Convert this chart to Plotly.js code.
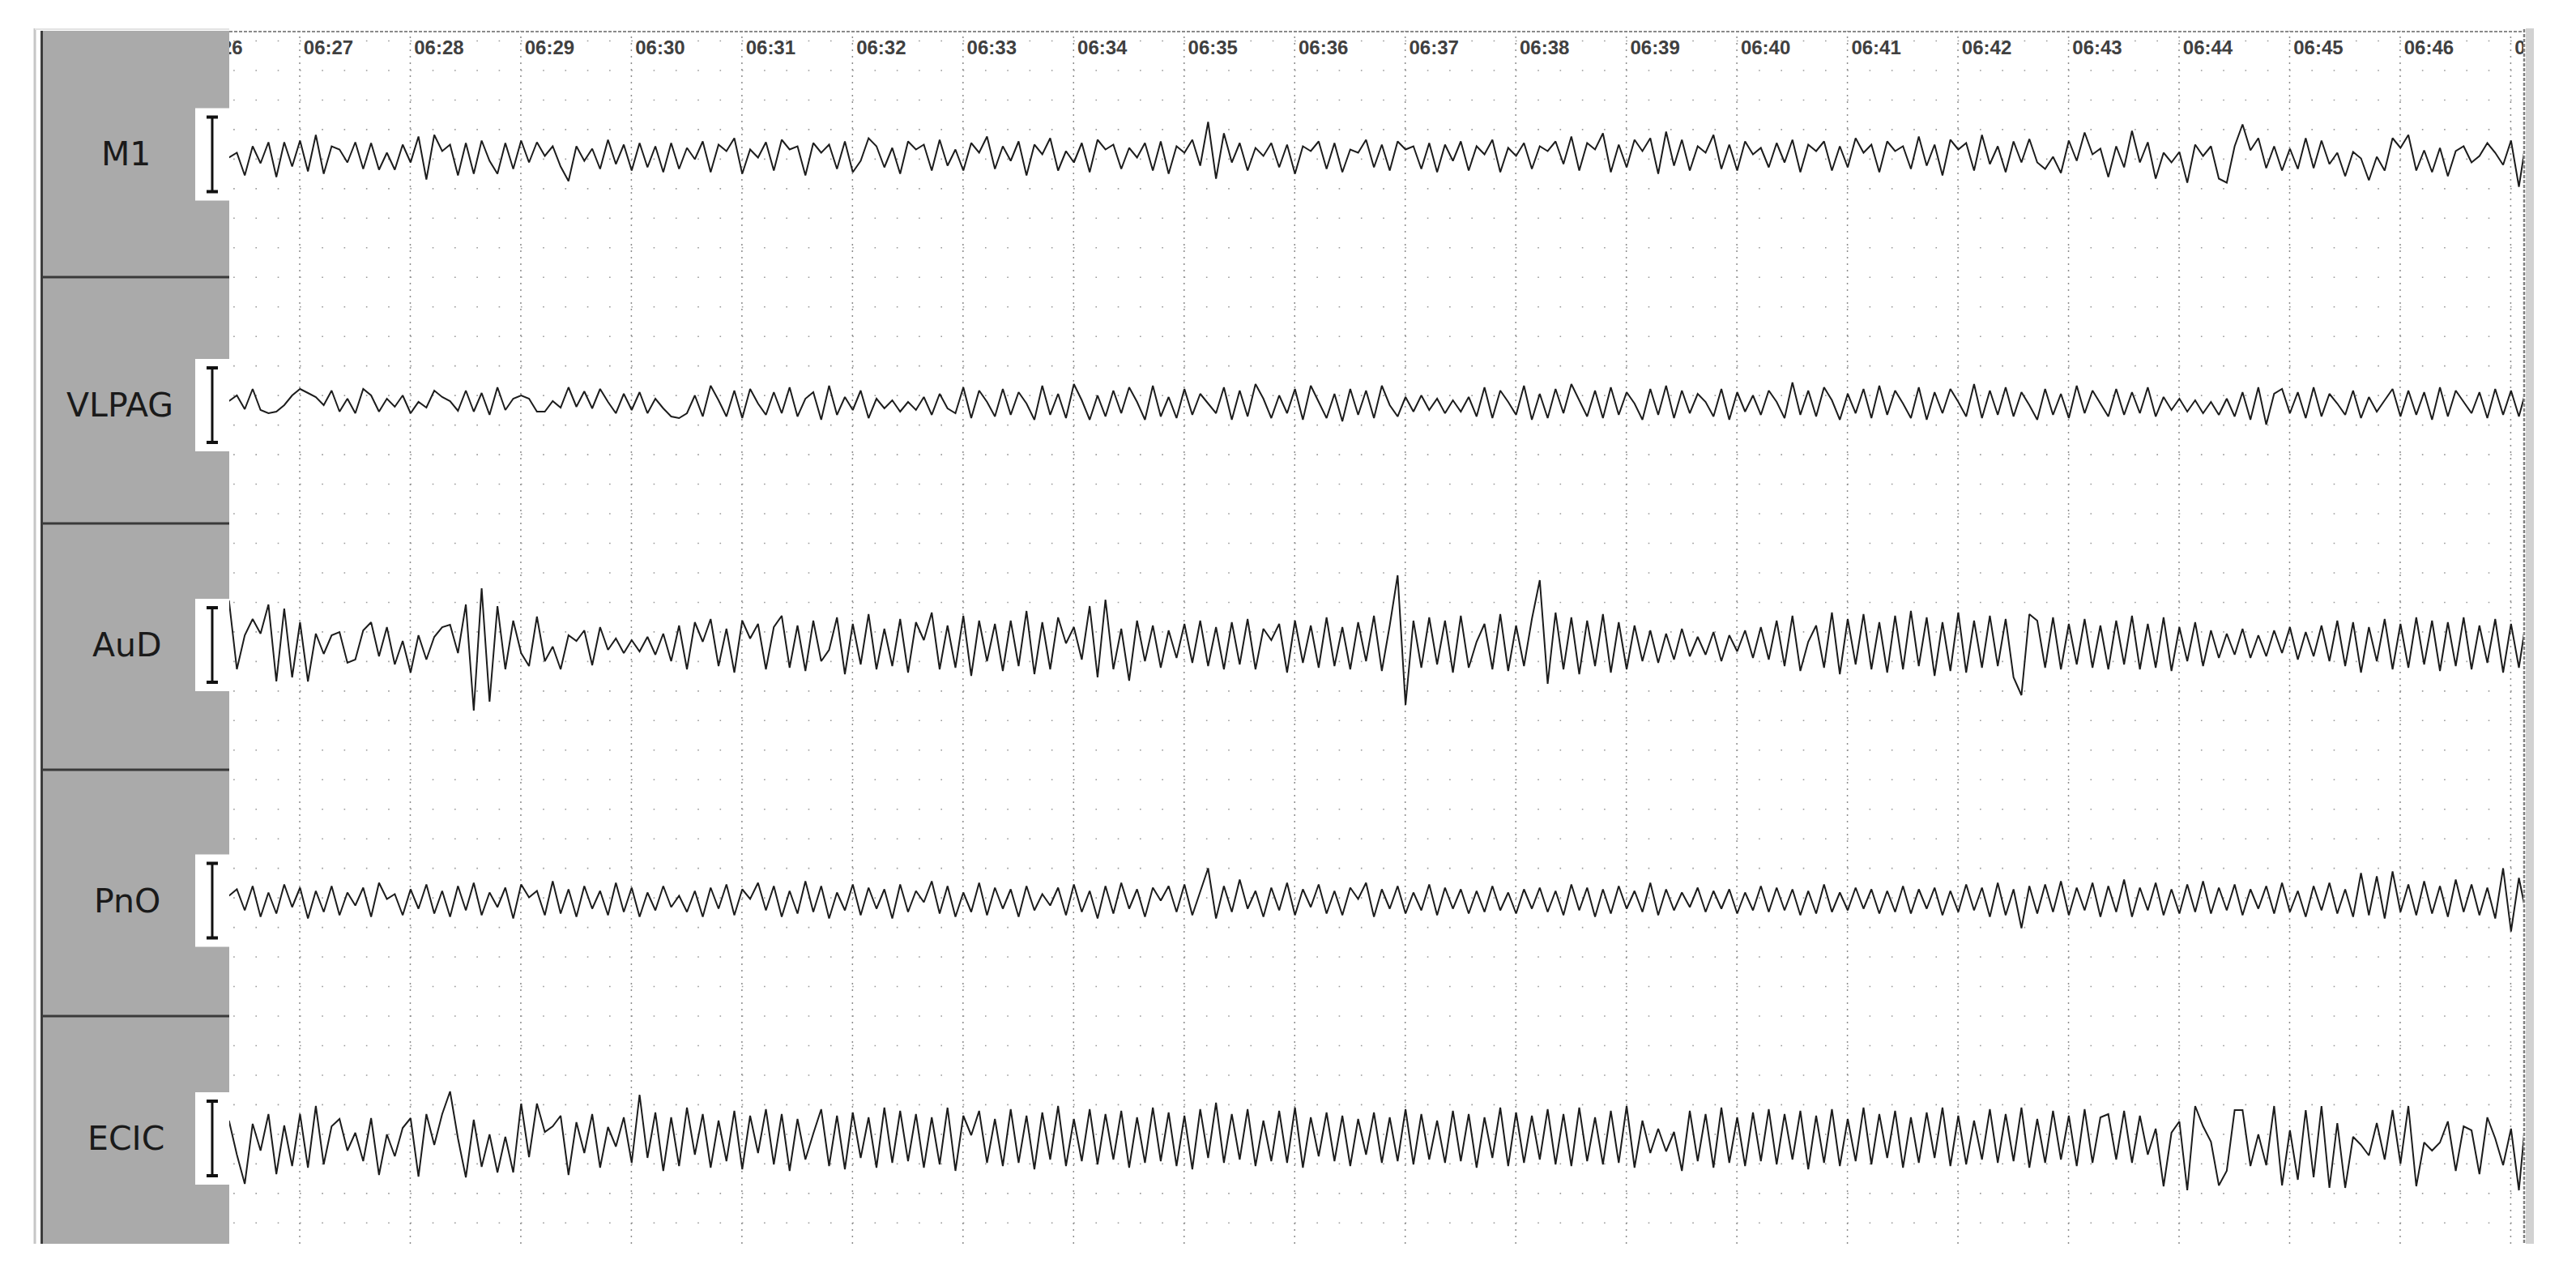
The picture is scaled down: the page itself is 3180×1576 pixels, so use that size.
<!DOCTYPE html>
<html>
<head>
<meta charset="utf-8">
<script src="https://cdn.plot.ly/plotly-3.0.1.min.js"></script>
<style>html,body{margin:0;padding:0;background:#fff;}#chart{width:3180px;height:1576px;}</style>
</head>
<body>
<div id="chart"></div>
<script>
// ---------------- DATA ----------------
// time axis: seconds past 06:00
const tickSeconds = [26,27,28,29,30,31,32,33,34,35,36,37,38,39,40,41,42,43,44,45,46,47];
const tickLabels = ["06:26","06:27","06:28","06:29","06:30","06:31","06:32","06:33","06:34","06:35","06:36","06:37","06:38","06:39","06:40","06:41","06:42","06:43","06:44","06:45","06:46","06:47"];
const channelNames = ["M1","VLPAG","AuD","PnO","ECIC"];
const startTime = 26.36;   // first sample (s)
const sampleRate = 14;     // samples per second
// amplitudes: positive = up, scale bar = 92 units

const M1 = [
 -4,2,-26,10,-11,15,-28,15,-15,17,-21,24,-24,10,
 6,-10,15,-18,14,-19,2,-19,12,-10,22,-31,24,4,
 12,-26,14,-24,17,-8,-24,14,-18,17,-10,15,-2,10,
 -15,-33,10,-8,7,-18,18,-12,12,-20,14,-16,10,-22,
 14,-18,8,-6,16,-22,12,4,20,-24,6,-4,15,-20,
 18,6,10,-26,14,2,12,-18,16,-22,-8,20,10,-16,
 8,-24,16,6,12,-20,18,-14,6,-20,14,2,22,-18,
 10,-8,16,-26,12,0,20,-20,4,-10,14,-22,18,6,
 12,-18,8,-4,14,-20,16,-24,10,2,18,-14,40,-30,
 26,-10,14,-20,8,-2,14,-16,12,-24,10,4,16,-18,
 14,-22,6,2,18,-16,12,-20,16,6,10,-18,14,-22,
 12,-8,16,-20,10,0,18,-22,8,-2,14,-18,10,4,
 16,-12,22,-20,14,6,26,-22,12,-16,18,4,20,-24,
 28,-14,18,-20,10,2,24,-18,12,-20,16,0,8,-16,
 14,-10,18,-22,12,4,16,-20,10,-16,20,2,12,-22,
 16,4,10,-18,22,-14,12,-26,18,6,14,-20,24,-12,
 10,-22,16,-10,19,-10,-18,-3,-23,17,-8,27,0,7,
 -28,10,-16,29,-10,15,-30,2,-10,3,-35,12,-2,10,
 -30,-35,10,37,5,20,-17,10,-20,7,-18,20,-17,17,
 -12,2,-27,3,-5,-32,-3,-20,20,8,24,-20,5,-22,
 8,-27,4,10,-10,-2,14,2,-13,17,-40,23,0,0
];

const VLPAG = [
 5,12,-5,20,-6,-10,-8,0,12,20,15,10,0,18,
 -8,8,-10,20,12,-8,8,-2,12,-10,4,-3,18,10,
 5,-7,18,-8,15,-12,22,-6,8,12,8,-8,-8,5,
 -3,22,-2,17,-4,20,4,-10,14,-6,16,-10,8,-4,
 -14,-16,-10,12,-14,24,6,-14,18,-16,20,2,-12,16,
 -10,22,-14,8,16,-18,24,-12,10,-6,18,-16,8,-4,
 6,-8,4,-6,10,-12,14,-4,-10,22,-16,18,4,-14,
 20,-12,16,2,-18,24,-12,14,-16,26,6,-18,12,-14,
 18,-10,22,4,-18,24,-14,10,-16,20,-12,14,2,-10,
 22,-18,18,-14,26,8,-16,12,-10,20,-18,24,4,-16,
 14,-20,20,-12,18,-16,24,0,-14,10,-8,12,-6,8,
 -10,6,-8,10,-14,22,-16,18,4,-12,24,-18,14,-16,
 20,-10,26,6,-14,18,-16,22,-12,16,2,-18,20,-12,
 24,-16,18,-10,14,4,-14,20,-18,16,-8,12,-12,18,
 4,-16,28,-12,18,-14,22,6,-18,14,-10,20,-16,24,
 -12,18,2,-16,22,-18,16,-10,20,4,-14,26,-16,18,
 -12,22,-14,16,0,-18,20,-12,14,-16,24,-10,18,2,
 -14,20,-12,16,-10,22,-14,10,-6,8,-8,6,-10,4,
 -12,8,-14,16,-18,22,-24,14,20,-10,16,-16,22,-14,
 14,2,-12,18,-16,10,-8,6,20,-14,18,-12,16,-18,
 22,-14,18,4,-10,16,-16,20,-12,18,-14,22,-16,0
];

const AuD = [
 55,-30,12,32,14,50,-45,45,-40,28,-45,14,-11,12,
 16,-22,-18,18,28,-14,22,-24,5,-34,12,-18,10,22,
 25,-10,50,-81,70,-70,48,-30,30,-10,-26,35,-20,-2,
 -30,12,5,18,-25,22,-6,8,-10,6,-8,10,-12,14,
 -20,24,-30,28,4,32,-26,20,-34,30,8,26,-30,22,
 36,-28,24,-32,30,-20,-6,34,-36,26,-24,38,-30,20,
 -26,32,-34,28,6,40,-30,24,-28,36,-38,30,-20,26,
 -32,30,-26,42,-36,28,-30,34,2,22,-18,48,-40,56,
 -30,20,-44,30,-20,24,-28,18,-16,26,-22,30,-26,22,
 -30,28,-24,32,-30,20,6,26,-34,30,-22,24,-28,34,
 -26,22,-30,28,-20,36,-32,24,86,-74,30,-28,34,-24,
 30,-34,36,-28,4,26,-30,38,-32,24,-26,32,80,-48,
 40,-30,34,-36,30,-26,38,-34,28,-30,24,-20,18,-22,
 14,-18,20,-14,10,-12,16,-20,12,-8,18,-16,22,-18,
 30,-26,36,-32,4,24,-28,40,-36,32,-24,38,-30,28,
 -34,36,-30,42,-26,34,-38,28,-32,40,-34,30,-28,36,
 -26,32,-40,-62,38,30,-28,34,-30,26,-24,32,-28,24,
 -30,30,-24,36,-30,26,-28,34,-32,22,-20,28,-26,18,
 -16,14,-12,20,-16,12,-14,18,-10,22,-18,16,-14,24,
 -20,30,-26,28,-34,22,-20,32,-30,26,-28,34,-24,30,
 -32,28,-26,34,-30,24,-22,32,-34,26,-28,36,-30,0
];

const PnO = [
 6,14,-12,18,-20,10,-16,20,-8,16,-22,12,-14,18,
 -18,10,-6,16,-20,22,2,8,-18,14,-10,20,-16,12,
 -20,18,-12,22,-18,10,-8,16,-22,20,4,12,-18,24,
 -16,14,-20,18,-10,12,-18,22,-14,16,-20,10,-12,18,
 -8,6,-14,12,-20,16,-10,20,-18,14,2,22,-12,18,
 -20,12,-16,24,-14,18,-22,10,-12,20,-18,16,-10,14,
 -22,20,-14,12,-2,24,-16,18,-20,10,-14,22,-18,16,
 -10,14,-20,18,-12,8,-6,16,-18,20,-14,12,-22,18,
 -16,22,-10,14,-20,16,0,18,-14,20,-18,12,40,-22,
 18,-14,26,-10,12,-20,16,-12,22,-18,14,-8,20,-16,
 12,-18,16,2,22,-20,14,-10,18,-16,10,-12,20,-18,
 16,-10,14,-16,12,-14,18,-12,10,-16,14,-10,16,-14,
 12,-18,20,-12,16,-20,14,-16,18,-10,12,-14,22,-18,
 14,-12,10,-8,16,-14,12,-10,14,-16,10,-12,18,-14,
 16,-12,14,-18,12,-16,20,-14,10,-12,16,-10,14,-16,
 12,-14,18,-16,14,-10,16,-18,12,-14,20,-12,16,-20,
 22,-18,14,-34,18,-16,20,-14,24,-18,16,-12,22,-20,
 18,-14,26,-20,16,-12,22,-18,14,-16,20,-14,24,-16,
 16,-12,20,-18,14,-10,18,-16,22,-14,12,-20,18,-12,
 22,-16,14,-20,34,-18,30,-22,36,-14,20,-18,24,-16,
 18,-20,26,-14,20,-18,16,-22,40,-38,28,-20,0,0
];

const ECIC = [
 22,-20,-56,18,-15,30,-44,16,-34,30,-36,40,-32,15,
 24,-15,7,-28,25,-45,5,-22,13,25,-47,30,-8,30,
 58,0,-48,23,-35,5,-42,2,-42,43,-23,43,8,15,
 28,-45,20,-18,30,-36,14,-10,26,-30,54,-24,32,-40,
 26,-34,38,-20,30,-36,22,-28,34,-38,28,-18,36,-32,
 30,-40,24,-26,6,36,-34,28,-38,32,-24,26,-36,38,
 -30,34,-28,30,-36,26,-32,38,-40,28,4,34,-30,24,
 -34,36,-30,28,-38,32,-26,40,-34,24,-28,36,-32,30,
 -26,34,-36,26,-30,38,-28,32,-34,28,-38,36,-24,44,
 -30,30,-26,36,-34,22,-28,34,-30,38,-36,26,-22,32,
 -28,28,-34,24,-20,32,-30,26,-28,36,-32,30,-26,22,
 -30,34,-28,30,-36,26,-24,38,-34,32,-30,28,-26,36,
 -32,30,-34,38,-28,26,-32,34,-30,40,-36,22,-18,12,
 -16,8,-40,34,-28,30,-36,38,-30,26,-34,32,-28,36,
 -32,30,-26,34,-38,28,-30,36,-34,24,-28,38,-32,30,
 -24,34,-36,26,-30,32,-24,38,-34,28,-32,22,-26,36,
 -30,30,-28,38,-36,24,-30,34,-26,28,-34,36,-30,26,
 30,-26,34,-30,28,-20,12,-59,7,21,-64,40,15,-4,
 -58,-40,35,35,-34,5,-33,40,-58,10,-51,35,-48,40,
 -61,19,-61,2,-8,-21,19,-26,35,-31,40,-59,-5,-15,
 -5,21,-40,15,10,-44,26,0,-33,12,-64,40,0,0
];

// ---------------- LAYOUT ----------------
const W = 3180, H = 1576;
const PL = 283, PR = 3115, PT = 38, PB = 1535;
const xRange = [27 + (PL - 370) / 136.47, 27 + (PR - 370) / 136.47];
const px2x = p => (p - PL) / (PR - PL);
const px2y = p => (PB - p) / (PB - PT);
const centers = [190.5, 500, 796, 1111.5, 1405];
const bands = [[38,342],[342,646],[646,950],[950,1254],[1254,1535]];
const series = [M1, VLPAG, AuD, PnO, ECIC];

const data = [];
data.push({
  type:'scatter', mode:'text', x: tickSeconds, y: tickSeconds.map(() => 61),
  text: tickLabels, texttemplate:'\u2009%{text}', textposition:'middle right',
  textfont:{family:'Liberation Sans, Arial, sans-serif', size:24, color:'#404040', weight:'bold'},
  cliponaxis:true, hoverinfo:'skip', xaxis:'x', yaxis:'y'
});
series.forEach((vals, k) => {
  data.push({
    type:'scatter', mode:'lines',
    x: vals.map((_, i) => startTime + i / sampleRate), y: vals,
    line:{color:'#1c1c1c', width:2},
    xaxis:'x', yaxis:'y' + (k + 2), hoverinfo:'skip'
  });
});

const hidden = {showgrid:false, zeroline:false, showticklabels:false, ticks:'', showline:false, fixedrange:true};
const layout = {
  width:W, height:H,
  margin:{l:PL, r:W - PR, t:PT, b:H - PB, pad:0},
  paper_bgcolor:'#ffffff', plot_bgcolor:'rgba(0,0,0,0)',
  showlegend:false, hovermode:false,
  xaxis:Object.assign({range:xRange, anchor:'y'}, hidden),
  yaxis:Object.assign({domain:[0,1], range:[PB, PT], anchor:'x'}, hidden),
  shapes:[], annotations:[]
};
bands.forEach(([t, b], k) => {
  layout['yaxis' + (k + 2)] = Object.assign({
    domain:[px2y(b), px2y(t)], range:[-(b - centers[k]), centers[k] - t], anchor:'x'
  }, hidden);
});

const S = layout.shapes;
const rectPx = (x0, y0, x1, y1, fill) => S.push({type:'rect', xref:'paper', yref:'paper',
  x0:px2x(x0), x1:px2x(x1), y0:px2y(y1), y1:px2y(y0), fillcolor:fill, line:{width:0}, layer:'above'});
const linePx = (x0, y0, x1, y1, color, width, dash) => S.push({type:'line', xref:'paper', yref:'paper',
  x0:px2x(x0), x1:px2x(x1), y0:px2y(y0), y1:px2y(y1), line:{color:color, width:width, dash:dash || 'solid'}, layer:'above'});

// grid: major second lines (dotted) and dot lattice rows
tickSeconds.forEach(s => {
  if (s > xRange[0] && s < xRange[1]) {
    S.push({type:'line', xref:'x', yref:'paper', x0:s, x1:s, y0:0, y1:1,
      line:{color:'#8c8c8c', width:1.5, dash:'2px,6px'}, layer:'below'});
  }
});
for (let y = 50.5; y < PB - 2; y += 36.47) {
  S.push({type:'line', xref:'x', yref:'y', x0:26.4, x1:xRange[1], y0:y, y1:y,
    line:{color:'#9a9a9a', width:1.6, dash:'1.6px,25.69px'}, layer:'below'});
}

// left label panel
rectPx(53, 38, PL, PB, '#aaaaaa');
linePx(43, 35, 43, PB, '#c6c6c6', 3);
linePx(43, 36, PL, 36, '#e2e2e2', 2);
linePx(51.5, 38, 51.5, PB, '#3c3c3c', 3);
[342, 646, 950, 1254].forEach(y => linePx(53, y, PL, y, '#3a3a3a', 3));
centers.forEach(c => {
  rectPx(241, c - 57, PL, c + 57, '#ffffff');
  linePx(262, c - 46, 262, c + 46, '#111111', 3);
  linePx(255, c - 46, 269, c - 46, '#111111', 4);
  linePx(255, c + 46, 269, c + 46, '#111111', 4);
});
// borders
linePx(PL, 39, PR, 39, '#8a8a8a', 2, '4px,2px');
linePx(3116, 36, 3116, PB, '#808080', 2.5, '4px,2px');
rectPx(3118, 35, 3128, PB, '#d2d2d2');

const labelX = [155, 148, 157, 157, 155];
channelNames.forEach((name, k) => {
  layout.annotations.push({xref:'paper', yref:'paper', x:px2x(labelX[k]), y:px2y(centers[k]),
    text:name, showarrow:false, xanchor:'center', yanchor:'middle',
    font:{family:'DejaVu Sans, Verdana, sans-serif', size:41, color:'#1a1a1a'}});
});

Plotly.newPlot('chart', data, layout, {staticPlot:true, displayModeBar:false});
</script>
</body>
</html>
